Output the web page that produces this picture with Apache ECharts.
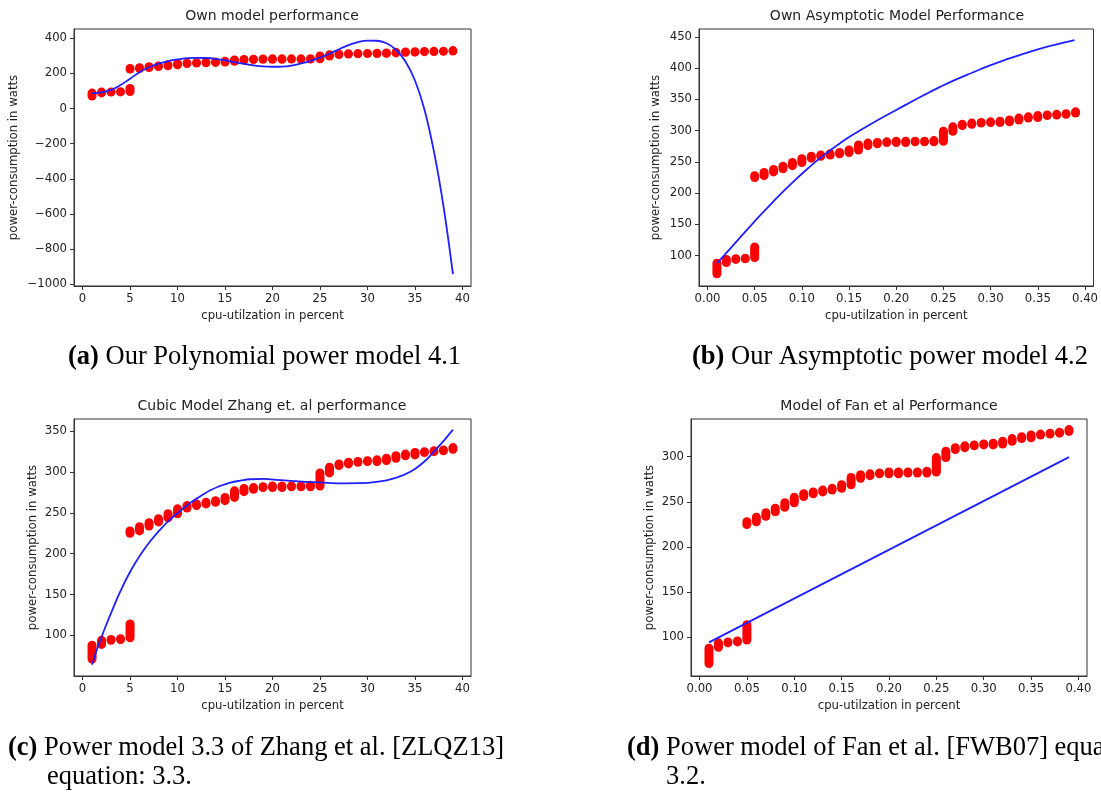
<!DOCTYPE html>
<html>
<head>
<meta charset="utf-8">
<script src="https://cdn.jsdelivr.net/npm/echarts@6/dist/echarts.min.js"></script>
<style>
  html, body { margin: 0; padding: 0; background: #fff; }
  #main { width: 1101px; height: 794px; }
</style>
</head>
<body>
<div id="main"></div>
<script>
// measured clusters (several samples per utilisation step -> low / high of the stack)
const clusterPct = [1, 2, 3, 4, 5, 5, 6, 7, 8, 9, 10, 11, 12, 13, 14, 15, 16, 17, 18, 19, 20,
  21, 22, 23, 24, 25, 26, 27, 28, 29, 30, 31, 32, 33, 34, 35, 36, 37, 38, 39];
const clusterFrac = [0.01, 0.02, 0.03, 0.04, 0.05, 0.05, 0.06, 0.07, 0.08, 0.09, 0.10, 0.11, 0.12,
  0.13, 0.14, 0.15, 0.16, 0.17, 0.18, 0.19, 0.20, 0.21, 0.22, 0.23, 0.24, 0.25, 0.26, 0.27, 0.28,
  0.29, 0.30, 0.31, 0.32, 0.33, 0.34, 0.35, 0.36, 0.37, 0.38, 0.39];
const clusterLow = [71, 89, 94, 95, 97, 225, 228, 234, 239, 244, 249, 256, 259, 261, 263, 265, 269,
  276, 279, 281, 281, 281, 282, 282, 282, 283, 299, 308, 310, 312, 313, 313, 314, 317, 320, 321,
  324, 325, 326, 328];
const clusterHigh = [88, 94, 95, 96, 114, 228, 233, 238, 243, 249, 255, 259, 261, 263, 265, 269, 277,
  280, 281, 282, 283, 283, 283, 283, 284, 299, 306, 310, 312, 313, 314, 315, 317, 320, 322, 324,
  325, 326, 327, 330];

// model curves
const polyPct = [1, 2, 3, 4, 5, 6, 7, 8, 9, 10, 11, 12, 13, 14, 15, 16, 17, 18, 19, 20,
  21, 22, 23, 24, 25, 26, 27, 28, 29, 30, 31, 32, 33, 34, 35, 36, 37, 38, 39];
const polyWatts = [88, 92, 106, 134, 170, 207, 235, 256, 270, 280, 287, 289, 288, 283, 274, 264,
  254, 246, 240, 238, 239, 245, 257, 272, 290, 312, 338, 361, 378, 387, 386, 372, 335, 268, 160,
  -5, -245, -555, -943];

const asymFrac = [0.010, 0.025, 0.050, 0.070, 0.088, 0.106, 0.123, 0.141, 0.158, 0.176, 0.200,
  0.211, 0.229, 0.246, 0.263, 0.281, 0.298, 0.316, 0.333, 0.351, 0.368, 0.389];
const asymWatts = [87.7, 113, 155, 187, 214, 239, 260.5, 280.5, 297, 313, 333, 342, 356.5,
  369.5, 381.5, 393, 403.5, 413.5, 422, 430.3, 437.2, 444.7];

const cubicPct = [1, 1.48, 2.0, 2.54, 3.24, 3.94, 5.0, 6.06, 7.1, 8.17, 9.2, 10.28, 11.34, 12.4,
  13.45, 14.5, 15.56, 16.6, 17.7, 19.1, 20.4, 22.2, 23.9, 25.7, 27.4, 29.2, 30.95, 32.7, 34.46,
  36, 37, 38, 39];
const cubicWatts = [64, 81.6, 98, 114.3, 134, 153, 177.6, 198, 215, 229.5, 241.7, 252.4, 262.2,
  270.3, 277.7, 283, 287, 289.5, 291.2, 291.6, 290.5, 289, 287.8, 286.8, 286.2, 286.4, 288, 292,
  300, 313, 325, 338, 352];

const fanFrac = [0.01, 0.39];
const fanWatts = [94.5, 299.5];

const plotTitles = ["Own model performance", "Own Asymptotic Model Performance",
  "Cubic Model Zhang et. al performance", "Model of Fan et al Performance"];

const myChart = echarts.init(document.getElementById("main"));

const tickFont = { fontFamily: "DejaVu Sans", fontSize: 11.7, color: "#222" };
const frameColor = "#333";

function xAxisFor(grid, min, max, digits, gap) {
  return {
    type: "value", gridIndex: grid, min: min, max: max, splitNumber: 8,
    name: "cpu-utilzation in percent", nameLocation: "middle", nameGap: gap,
    nameTextStyle: tickFont,
    splitLine: { show: false },
    axisLine: { show: true, onZero: false, lineStyle: { color: frameColor, width: 1 } },
    axisTick: { show: true, length: 4, lineStyle: { color: frameColor } },
    axisLabel: Object.assign({ margin: 7, showMinLabel: false, showMaxLabel: false,
      formatter: (v) => v.toFixed(digits) }, tickFont),
  };
}

function yAxisFor(grid, min, max, split, gap) {
  return {
    type: "value", gridIndex: grid, min: min, max: max, splitNumber: split,
    name: "power-consumption in watts", nameLocation: "middle", nameGap: gap,
    nameTextStyle: tickFont,
    splitLine: { show: false },
    axisLine: { show: true, onZero: false, lineStyle: { color: frameColor, width: 1 } },
    axisTick: { show: true, length: 4, lineStyle: { color: frameColor } },
    axisLabel: Object.assign({ margin: 7, showMinLabel: false, showMaxLabel: false,
      formatter: (v) => (v < 0 ? "\u2212" + Math.abs(v) : String(v)) }, tickFont),
  };
}

function clusterSeries(idx, xs) {
  return {
    type: "custom", xAxisIndex: idx, yAxisIndex: idx,
    data: xs.map((x, i) => [x, clusterLow[i], clusterHigh[i]]),
    encode: { x: 0, y: [1, 2] },
    renderItem: (params, api) => {
      const top = api.coord([api.value(0), api.value(2)]);
      const bot = api.coord([api.value(0), api.value(1)]);
      return {
        type: "line",
        shape: { x1: top[0], y1: top[1], x2: bot[0], y2: bot[1] },
        style: { stroke: "#ff0000", lineWidth: 9, lineCap: "round" },
      };
    },
    z: 2,
  };
}

function modelSeries(idx, xs, ys, smooth) {
  return {
    type: "line", xAxisIndex: idx, yAxisIndex: idx,
    data: xs.map((x, i) => [x, ys[i]]),
    showSymbol: false, smooth: smooth,
    lineStyle: { color: "#2020ff", width: 1.8 },
    z: 3,
  };
}

const gridBox = { show: true, borderColor: frameColor, borderWidth: 1, backgroundColor: "transparent" };
const captionStyle = {
  fontFamily: "Liberation Serif", fontSize: 26.5, color: "#000", fontWeight: "normal",
  rich: { b: { fontFamily: "Liberation Serif", fontSize: 26.5, fontWeight: "bold", color: "#000" } },
};

const option = {
  animation: false,
  backgroundColor: "#fff",
  title: [
    { text: plotTitles[0], left: 272, top: 9, textAlign: "center" },
    { text: plotTitles[1], left: 897, top: 9, textAlign: "center" },
    { text: plotTitles[2], left: 272, top: 399, textAlign: "center" },
    { text: plotTitles[3], left: 889, top: 399, textAlign: "center" },
  ].map((t) => Object.assign({ padding: 0,
    textStyle: { fontFamily: "DejaVu Sans", fontSize: 14, fontWeight: "normal", color: "#222" } }, t))
    .concat([
      { text: "{b|(a)} Our Polynomial power model 4.1", left: 68, top: 344 },
      { text: "{b|(b)} Our Asymptotic power model 4.2", left: 692, top: 344 },
      { text: "{b|(c)} Power model 3.3 of Zhang et al. [ZLQZ13]", left: 8, top: 735 },
      { text: "equation: 3.3.", left: 47, top: 764 },
      { text: "{b|(d)} Power model of Fan et al. [FWB07] equation:", left: 627, top: 735 },
      { text: "3.2.", left: 666, top: 764 },
    ].map((t) => Object.assign({ padding: 0, textStyle: captionStyle }, t))),
  grid: [
    Object.assign({ left: 74, top: 29, width: 397, height: 257 }, gridBox),
    Object.assign({ left: 699, top: 29, width: 396, height: 257 }, gridBox),
    Object.assign({ left: 74, top: 419, width: 397, height: 257 }, gridBox),
    Object.assign({ left: 691, top: 419, width: 396, height: 257 }, gridBox),
  ],
  xAxis: [
    xAxisFor(0, -0.9, 40.9, 0, 24),
    xAxisFor(1, -0.009, 0.409, 2, 24),
    xAxisFor(2, -0.9, 40.9, 0, 24),
    xAxisFor(3, -0.009, 0.409, 2, 24),
  ],
  yAxis: [
    yAxisFor(0, -1010, 453, 7, 54),
    yAxisFor(1, 51.5, 462.5, 8, 37),
    yAxisFor(2, 50.3, 365, 6, 35),
    yAxisFor(3, 57.3, 341.7, 6, 35),
  ],
  series: [
    clusterSeries(0, clusterPct),
    modelSeries(0, polyPct, polyWatts, 0.4),
    clusterSeries(1, clusterFrac),
    modelSeries(1, asymFrac, asymWatts, 0.5),
    clusterSeries(2, clusterPct),
    modelSeries(2, cubicPct, cubicWatts, 0.5),
    clusterSeries(3, clusterFrac),
    modelSeries(3, fanFrac, fanWatts, false),
  ],
};

myChart.setOption(option);
</script>
</body>
</html>
